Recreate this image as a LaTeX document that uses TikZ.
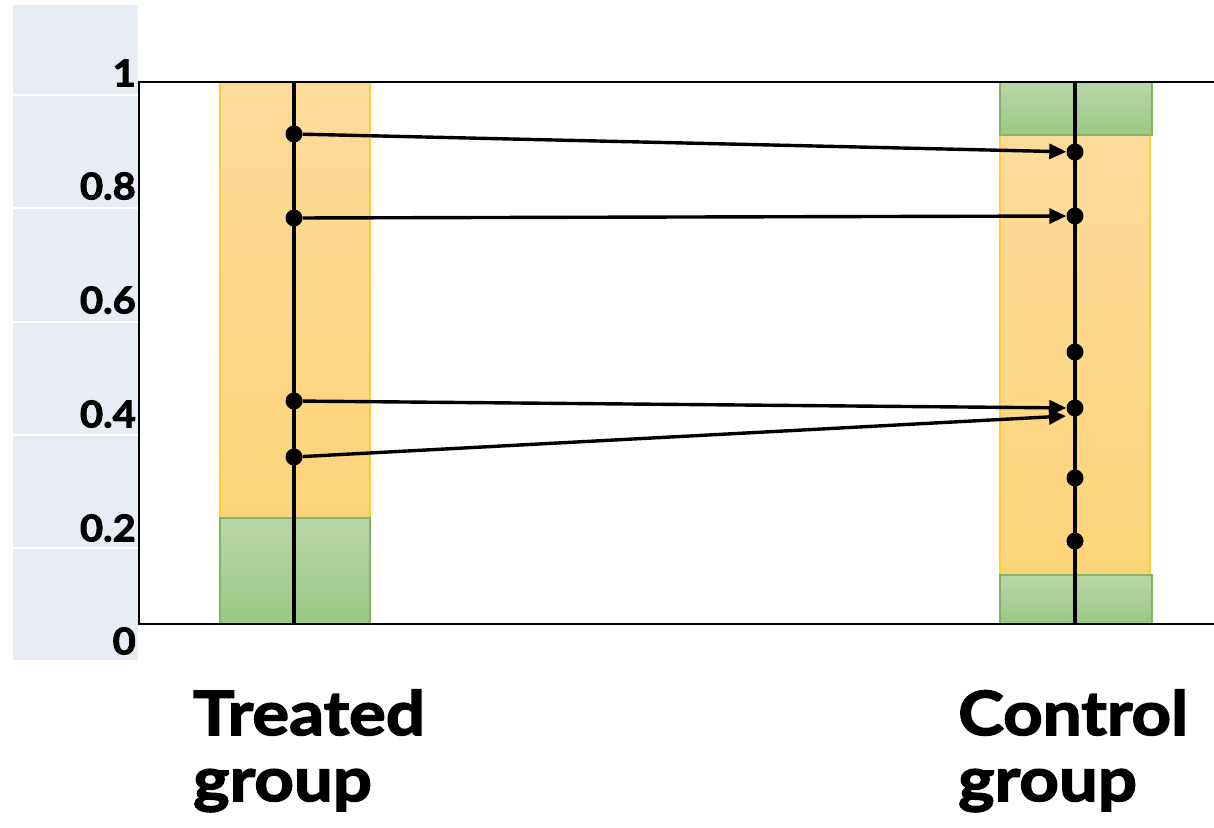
\documentclass[tikz,border=0pt]{standalone}
\usepackage{fontspec}
\setmainfont{Lato}[BoldFeatures={FakeBold=2.5,FakeStretch=1.08}]
\newfontfamily\grpfont{Lato}[BoldFeatures={FakeBold=2.5,FakeStretch=1.13}]
\usetikzlibrary{arrows.meta}
\definecolor{panel}{RGB}{232,236,245}
\definecolor{orgtop}{RGB}{253,220,155}
\definecolor{orgbot}{RGB}{254,212,122}
\definecolor{orgline}{RGB}{255,204,51}
\definecolor{grntop}{RGB}{184,214,168}
\definecolor{grnbot}{RGB}{155,201,132}
\definecolor{grnline}{RGB}{130,179,102}
\tikzset{
  ticklab/.style={anchor=east, font=\fontsize{37}{40}\selectfont\bfseries, inner sep=0pt},
  grouplab/.style={anchor=base west, font=\grpfont\fontsize{61}{70}\selectfont\bfseries, inner sep=0pt},
  dot/.style={circle, fill=black, inner sep=0pt, minimum size=17pt},
  stem/.style={line width=3.6pt},
  link/.style={line width=3.4pt, -{Triangle[length=17pt,width=15pt]}},
  orangebar/.style={top color=orgtop, bottom color=orgbot},
  greenbar/.style={top color=grntop, bottom color=grnbot},
}
\begin{document}
\begin{tikzpicture}[x=1pt,y=-1pt]
\useasboundingbox (0,0) rectangle (1214,827);
% axis label panel
\fill[panel] (13,5) rectangle (138,660);
\foreach \yy in {95,208,322,435,548} \draw[white,line width=2pt] (13,\yy) -- (138,\yy);
\node[ticklab] (l1) at (136,73) {1};
\node[ticklab] (l08) at (136,186) {0.8};
\node[ticklab] (l06) at (136,300) {0.6};
\node[ticklab] (l04) at (136,414) {0.4};
\node[ticklab] (l02) at (136,528) {0.2};
\node[ticklab] (l0) at (136,641) {0};
% treated bar
\shade[orangebar] (220,82) rectangle (370,518);
\draw[orgline,line width=1.2pt] (220,518) -- (220,82) -- (370,82) -- (370,518);
\shade[greenbar] (220,518) rectangle (370,624);
\draw[grnline,line width=1.2pt] (220,518) rectangle (370,624);
% control bar
\shade[orangebar] (1000,135) rectangle (1150,575);
\draw[orgline,line width=1.2pt] (1000,135) -- (1000,575) (1150,135) -- (1150,575);
\shade[greenbar] (1000,82) rectangle (1152,135);
\draw[grnline,line width=1.2pt] (1000,82) rectangle (1152,135);
\shade[greenbar] (1000,575) rectangle (1152,624);
\draw[grnline,line width=1.2pt] (1000,575) rectangle (1152,624);
% plot frame
\draw[line width=2pt] (1214,82) -- (139,82) -- (139,624) -- (1214,624);
% stems
\coordinate (ttop) at (294,82);
\coordinate (tbot) at (294,624);
\coordinate (ctop) at (1075,82);
\coordinate (cbot) at (1075,624);
\draw[stem] (ttop) -- (tbot);
\draw[stem] (ctop) -- (cbot);
% dots
\node[dot] (t1) at (294,134) {};
\node[dot] (t2) at (294,218) {};
\node[dot] (t3) at (294,401) {};
\node[dot] (t4) at (294,457) {};
\node[dot] (c1) at (1075,152) {};
\node[dot] (c2) at (1075,216) {};
\node[dot] (c3) at (1075,352) {};
\node[dot] (c4) at (1075,408) {};
\node[dot] (c5) at (1075,478) {};
\node[dot] (c6) at (1075,541) {};
\coordinate (c4b) at (1066,416);
% arrows
\draw[link] (t1) -- (c1);
\draw[link] (t2) -- (c2);
\draw[link] (t3) -- (c4);
\draw[link] (t4) -- (c4b);
% group labels
\node[grouplab] (tr1) at (193,735) {Treated};
\node[grouplab] (tr2) at (193,801) {group};
\node[grouplab] (co1) at (958,735) {Control};
\node[grouplab] (co2) at (958,801) {group};
\end{tikzpicture}
\end{document}
